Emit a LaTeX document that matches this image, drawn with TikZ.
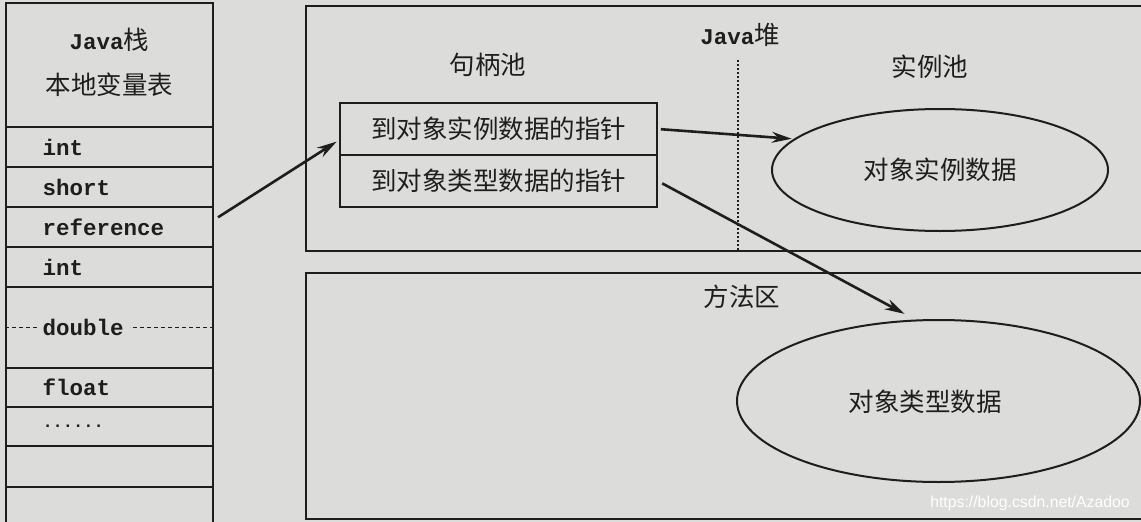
\documentclass[tikz,border=0pt]{standalone}
\usepackage{fontspec}
\setmainfont{Noto Sans CJK SC}
\newfontfamily\monof{Liberation Mono}
\newfontfamily\wmf{Liberation Sans}
\usetikzlibrary{shapes.geometric,arrows.meta}
\definecolor{paper}{HTML}{DCDCDA}
\definecolor{ink}{HTML}{1E1E1E}
\tikzset{
  cell/.style={draw=ink, line width=1.6pt, minimum width=207pt, text width=134pt, inner xsep=0pt, inner ysep=0pt, align=left, font=\monof\bfseries\fontsize{22.5}{22.5}\selectfont, text=ink},
  cjk/.style={font=\fontsize{25.5}{25.5}\selectfont, text=ink, inner sep=1pt},
  frame/.style={draw=ink, line width=1.6pt},
  ptrbox/.style={draw=ink, line width=1.6pt, minimum width=317pt, minimum height=52pt, font=\fontsize{25.5}{25.5}\selectfont, text=ink},
  pool/.style={ellipse, draw=ink, line width=2pt, inner sep=0pt, font=\fontsize{25.5}{25.5}\selectfont, text=ink},
  conn/.style={draw=ink, line width=2.6pt, -{Stealth[length=20pt,width=11pt]}},
}
\begin{document}
\begin{tikzpicture}[x=1pt,y=-1pt]
\fill[paper] (0,0) rectangle (1141,522);
\useasboundingbox (0,0) rectangle (1141,522);

% ---- Java stack column ----
\node[cell, minimum height=124pt] (head) at (109.5,65) {};
\node[cjk] (hd1) at (109.5,40) {{\monof\bfseries\fontsize{22.5}{22.5}\selectfont Java}栈};
\node[cjk] (hd2) at (109.5,85) {本地变量表};
\node[cell, minimum height=40pt] (r1) at (109.5,147) {int};
\node[cell, minimum height=40pt] (r2) at (109.5,187) {short};
\node[cell, minimum height=40pt] (r3) at (109.5,227) {reference};
\node[cell, minimum height=40pt] (r4) at (109.5,267) {int};
\node[cell, minimum height=81pt] (r5) at (109.5,327.5) {double};
\draw[ink, line width=0.8pt, dash pattern=on 4pt off 3pt] (r5.west) -- ++(34,0);
\draw[ink, line width=0.8pt, dash pattern=on 4pt off 3pt] (r5.east) -- ++(-84,0);
\node[cell, minimum height=39pt] (r6) at (109.5,387.5) {float};
\node[cell, minimum height=39pt] (r7) at (109.5,426.5) {\raisebox{-1pt}{\fontsize{17}{17}\selectfont......}};
\node[cell, minimum height=41pt] (r8) at (109.5,466.5) {};
\node[cell, minimum height=41pt] (r9) at (109.5,507.5) {};

% ---- Java heap ----
\node[frame, minimum width=850pt, minimum height=245pt, anchor=north west, inner sep=0pt] (heap) at (305,5) {};
\node[cjk] (heaplbl) at (740,35) {{\monof\bfseries\fontsize{22.5}{22.5}\selectfont Java}堆};
\draw[ink, line width=1.2pt, dash pattern=on 2pt off 2pt] (heaplbl.south) ++(-2,12) coordinate (dtop) -- (dtop |- heap.south);
\node[cjk] (hpool) at (488,65) {句柄池};
\node[ptrbox] (p1) at (498.5,129) {到对象实例数据的指针};
\node[ptrbox] (p2) at (498.5,181) {到对象类型数据的指针};
\node[cjk] (ipool) at (930,67) {实例池};
\node[pool, minimum width=336pt, minimum height=122pt] (e1) at (940,170) {对象实例数据};

% ---- Method area ----
\node[frame, minimum width=850pt, minimum height=246pt, anchor=north west, inner sep=0pt] (method) at (305,272) {};
\node[cjk] (mlbl) at (742,297) {方法区};
\node[pool, minimum width=403pt, minimum height=162pt] (e2) at (938.5,401) {};
\node[cjk] (e2t) at (925,402) {对象类型数据};

% ---- connectors ----
\draw[conn, shorten <=5pt, shorten >=3pt] (r3.east |- 0,220) coordinate (a1) -- (p1.west |- 0,140) coordinate (a1e);
\draw[conn, shorten <=3pt, shorten >=2pt] (p1.east) -- (e1.168);
\draw[conn, shorten <=5pt, shorten >=12pt] (p2.east) -- (e2.106);

% watermark
\node[font=\wmf\fontsize{15.8}{15.8}\selectfont, text=white] (wm) at (1030,503) {https://blog.csdn.net/Azadoo};
\end{tikzpicture}
\end{document}
